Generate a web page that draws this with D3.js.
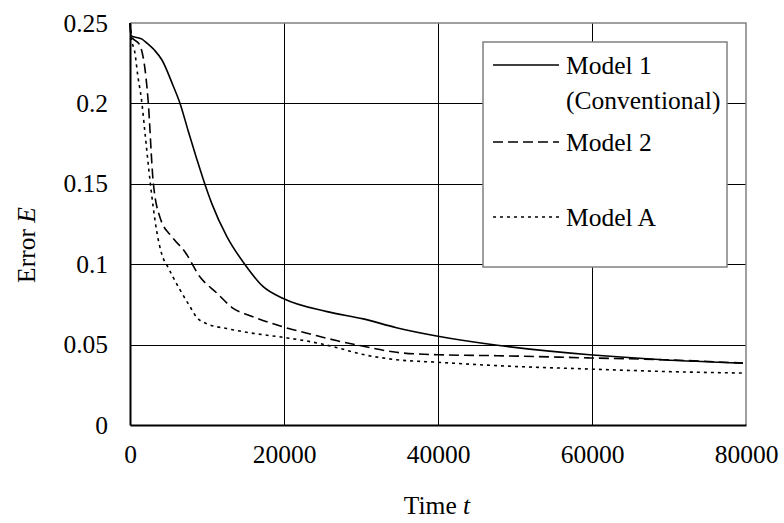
<!DOCTYPE html>
<html>
<head>
<meta charset="utf-8">
<script src="https://cdn.jsdelivr.net/npm/d3@7"></script>
<style>
  body { margin: 0; background: #fff; }
  text { font-family: "Liberation Serif", "Times New Roman", serif; }
</style>
</head>
<body>
<svg id="chart" width="784" height="523"></svg>
<script>
// values
var model1T = [0, 150, 1560, 2200, 3200, 4150, 5600, 6500, 7550, 8700, 9500, 10600, 12600, 14900, 17300, 19900, 25600, 30300, 34600, 40000, 47700, 59700, 69200, 79600];
var model1E = [0.25, 0.242, 0.240, 0.2375, 0.233, 0.227, 0.211, 0.200, 0.183, 0.165, 0.153, 0.138, 0.117, 0.100, 0.086, 0.0787, 0.0705, 0.066, 0.0605, 0.0552, 0.0496, 0.0437, 0.0406, 0.0385];

var model2T = [0, 150, 1300, 2350, 3000, 3900, 5450, 7150, 9100, 11300, 13400, 15600, 19900, 24300, 26800, 30300, 34600, 40000, 47700, 59700, 69200, 79600];
var model2E = [0.25, 0.242, 0.236, 0.202, 0.152, 0.129, 0.117, 0.1076, 0.092, 0.082, 0.0725, 0.068, 0.061, 0.0555, 0.0525, 0.049, 0.0452, 0.0437, 0.0431, 0.0417, 0.0406, 0.0385];

var modelAT = [0, 150, 650, 1000, 1500, 1950, 2600, 3450, 4100, 4950, 6500, 7800, 8650, 9950, 12550, 16000, 19900, 24300, 26800, 30300, 34600, 40000, 47700, 59700, 69200, 79600];
var modelAE = [0.25, 0.242, 0.231, 0.2177, 0.202, 0.1815, 0.152, 0.121, 0.1066, 0.098, 0.084, 0.0735, 0.067, 0.063, 0.060, 0.057, 0.0545, 0.051, 0.0482, 0.0438, 0.0406, 0.039, 0.0369, 0.0348, 0.0333, 0.0323];

var xTicks = [0, 20000, 40000, 60000, 80000];
var yTicks = [0, 0.05, 0.1, 0.15, 0.2, 0.25];
var legendLabels = [["Model 1", "(Conventional)"], ["Model 2"], ["Model A"]];
var dashes = [null, "10,5", "3,4"];

var svg = d3.select("#chart");
//plot area edges (window.top is reserved, so use other names)
var pL = 130, pR = 746, pT = 23, pB = 425;
var fontSize = "25.5px";

var x = d3.scaleLinear().domain([0, 80000]).range([pL, pR]);
var y = d3.scaleLinear().domain([0, 0.25]).range([pB, pT]);

//gridlines
svg.append("g").selectAll("line")
	.data(yTicks.slice(1, -1))
	.enter().append("line")
	.attr("x1", pL).attr("x2", pR)
	.attr("y1", function(d){ return Math.round(y(d)) + 0.5; })
	.attr("y2", function(d){ return Math.round(y(d)) + 0.5; })
	.style("stroke", "#000").style("stroke-width", 1);
svg.append("g").selectAll("line")
	.data(xTicks.slice(1, -1))
	.enter().append("line")
	.attr("y1", pT).attr("y2", pB)
	.attr("x1", function(d){ return Math.round(x(d)) + 0.5; })
	.attr("x2", function(d){ return Math.round(x(d)) + 0.5; })
	.style("stroke", "#000").style("stroke-width", 1);

//plot border (gray top / right)
svg.append("path")
	.attr("d", "M" + pL + "," + pT + "H" + pR + "V" + pB)
	.style("fill", "none").style("stroke", "#808080").style("stroke-width", 1.5);

//axes
var xAxis = d3.axisBottom(x).tickValues(xTicks).tickSize(0).tickPadding(20).tickFormat(d3.format("d"));
var yAxis = d3.axisLeft(y).tickValues(yTicks).tickSize(0).tickPadding(22).tickFormat(function(d){ return d === 0 ? "0" : String(+d.toFixed(2)); });

var gx = svg.append("g").attr("transform", "translate(0," + pB + ")").call(xAxis);
var gy = svg.append("g").attr("transform", "translate(" + pL + ",0)").call(yAxis);
[gx, gy].forEach(function(g){
	g.select(".domain").style("stroke", "#000").style("stroke-width", 2);
	g.selectAll("text").style("font-size", fontSize).style("fill", "#000")
		.style("font-family", "'Liberation Serif', serif");
});

//series, smoothed between the read points
var line = d3.line()
	.curve(d3.curveMonotoneX)
	.x(function(d){ return x(d[0]); })
	.y(function(d){ return y(d[1]); });

var series = [
	d3.zip(model1T, model1E),
	d3.zip(model2T, model2E),
	d3.zip(modelAT, modelAE)
];

svg.append("g").selectAll("path")
	.data(series)
	.enter().append("path")
	.attr("d", line)
	.style("fill", "none")
	.style("stroke", "#000")
	.style("stroke-width", 1.6)
	.style("stroke-dasharray", function(d, i){ return dashes[i]; });

//axis titles
svg.append("text")
	.attr("x", 437).attr("y", 514)
	.attr("text-anchor", "middle")
	.style("font-size", fontSize)
	.html("Time <tspan font-style='italic'>t</tspan>");
svg.append("text")
	.attr("transform", "translate(35,245) rotate(-90)")
	.attr("text-anchor", "middle")
	.style("font-size", fontSize)
	.html("Error <tspan font-style='italic'>E</tspan>");

//legend
var lg = svg.append("g");
lg.append("rect")
	.attr("x", 483).attr("y", 42).attr("width", 244).attr("height", 225)
	.style("fill", "#fff").style("stroke", "#808080").style("stroke-width", 1.5);

var legendY = [65, 142, 217];
legendLabels.forEach(function(lab, i){
	lg.append("line")
		.attr("x1", 493).attr("x2", 559)
		.attr("y1", legendY[i]).attr("y2", legendY[i])
		.style("stroke", "#000").style("stroke-width", 1.6)
		.style("stroke-dasharray", dashes[i]);
	lab.forEach(function(t, j){
		lg.append("text")
			.attr("x", 566).attr("y", legendY[i] + 9 + j * 35)
			.style("font-size", fontSize)
			.text(t);
	});
});
</script>
</body>
</html>
